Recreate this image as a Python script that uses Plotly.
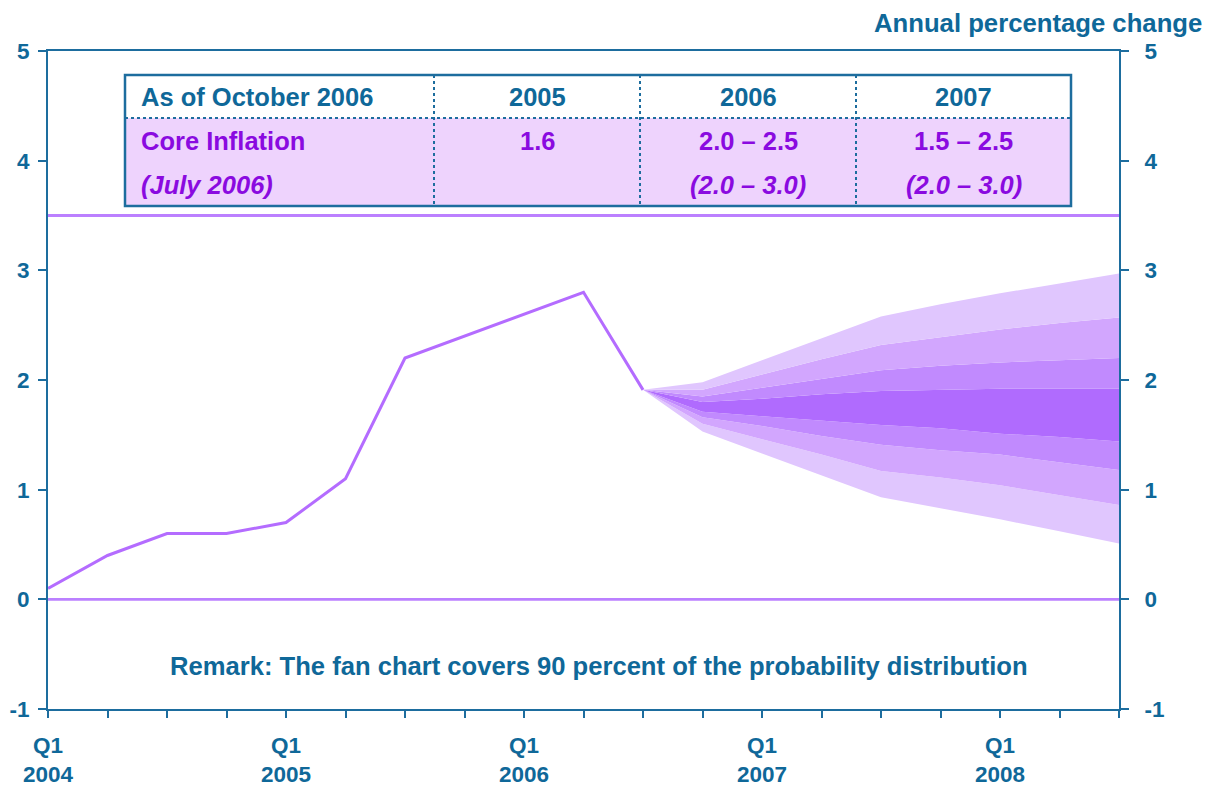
import plotly.graph_objects as go

# ---------------- data ----------------
quarters = ["Q1 2004", "Q2 2004", "Q3 2004", "Q4 2004",
            "Q1 2005", "Q2 2005", "Q3 2005", "Q4 2005",
            "Q1 2006", "Q2 2006", "Q3 2006", "Q4 2006",
            "Q1 2007", "Q2 2007", "Q3 2007", "Q4 2007",
            "Q1 2008", "Q2 2008", "Q3 2008"]
x_tick_labels = ["Q1<br>2004", "", "", "", "Q1<br>2005", "", "", "",
                 "Q1<br>2006", "", "", "", "Q1<br>2007", "", "", "",
                 "Q1<br>2008", "", ""]

actual_quarters = quarters[:11]
core_inflation = [0.1, 0.4, 0.6, 0.6, 0.7, 1.1, 2.2, 2.4, 2.6, 2.8, 1.91]

fan_quarters = quarters[10:]
fan_upper3 = [1.91, 1.98, 2.18, 2.38, 2.58, 2.69, 2.79, 2.88, 2.97]
fan_upper2 = [1.91, 1.91, 2.05, 2.19, 2.32, 2.39, 2.46, 2.52, 2.57]
fan_upper1 = [1.91, 1.85, 1.93, 2.01, 2.09, 2.13, 2.16, 2.18, 2.20]
fan_ctop = [1.91, 1.80, 1.83, 1.87, 1.90, 1.91, 1.92, 1.92, 1.92]
fan_cbot = [1.91, 1.71, 1.67, 1.63, 1.59, 1.56, 1.51, 1.48, 1.44]
fan_lower1 = [1.91, 1.66, 1.58, 1.49, 1.41, 1.36, 1.32, 1.25, 1.18]
fan_lower2 = [1.91, 1.60, 1.46, 1.32, 1.17, 1.11, 1.04, 0.95, 0.86]
fan_lower3 = [1.91, 1.53, 1.33, 1.13, 0.93, 0.83, 0.73, 0.62, 0.51]

y_tick_values = [-1, 0, 1, 2, 3, 4, 5]
y_tick_labels = ["-1", "0", "1", "2", "3", "4", "5"]
reference_lines = [0, 3.5]

table_header = ["As of October 2006", "2005", "2006", "2007"]
table_row1 = ["Core Inflation", "1.6", "2.0 – 2.5", "1.5 – 2.5"]
table_row2 = ["(July 2006)", "", "(2.0 – 3.0)", "(2.0 – 3.0)"]

title_text = "Annual percentage change"
remark_text = "Remark: The fan chart covers 90 percent of the probability distribution"

# ---------------- styles ----------------
FONT = "Liberation Sans, Arial, sans-serif"
BLUE = "#0f6899"
AXIS = "#1d6d9e"
PURPLE_TXT = "#8a0ae0"
LINE = "#b46cff"
REF_LINE = "#bb80ff"
BAND = ["#e0c6fe", "#d2a6fe", "#c18afe", "#b06bfe"]
TABLE_FILL = "#eed3fd"

OFF = 8                      # page body margin of the html page
W, H = 1216, 785
ML, MT = 48 - OFF, 51 - OFF  # plot area starts at page px (48, 51)
PW, PH = 1071, 658
MR, MB = W - ML - PW, H - MT - PH


def px(xp):  # page pixel -> paper x
    return (xp - OFF - ML) / PW


def py(yp):  # page pixel -> paper y
    return (MT + PH - (yp - OFF)) / PH


qidx = {q: i for i, q in enumerate(quarters)}

fig = go.Figure()

# fan bands: bottom to top
fan_series = [fan_lower3, fan_lower2, fan_lower1, fan_cbot,
              fan_ctop, fan_upper1, fan_upper2, fan_upper3]
band_colors = [None, BAND[0], BAND[1], BAND[2], BAND[3], BAND[2], BAND[1], BAND[0]]
fx = [qidx[q] for q in fan_quarters]
for ser, col in zip(fan_series, band_colors):
    fig.add_trace(go.Scatter(
        x=fx, y=ser, mode="lines", line=dict(width=0),
        fill=None if col is None else "tonexty",
        fillcolor=col, hoverinfo="skip", showlegend=False))

# actual core inflation line
fig.add_trace(go.Scatter(
    x=[qidx[q] for q in actual_quarters], y=core_inflation, mode="lines",
    line=dict(color=LINE, width=3), showlegend=False))

# invisible trace on right axis
fig.add_trace(go.Scatter(x=[0], y=[0], yaxis="y2", mode="markers",
                         marker=dict(opacity=0), showlegend=False,
                         hoverinfo="skip"))

shapes = []
for v in reference_lines:
    shapes.append(dict(type="line", xref="paper", yref="y", x0=0, x1=1,
                       y0=v, y1=v, line=dict(color=REF_LINE, width=2.8),
                       layer="below"))

# table geometry (page pixels)
tx0, tx1 = 125, 1071
ty0, tyh, ty1 = 75, 118, 206
cols = [tx0, 434, 640, 856, tx1]
shapes.append(dict(type="rect", xref="paper", yref="paper",
                   x0=px(tx0), x1=px(tx1), y0=py(tyh), y1=py(ty1),
                   fillcolor=TABLE_FILL, line=dict(width=0), layer="above"))
shapes.append(dict(type="rect", xref="paper", yref="paper",
                   x0=px(tx0), x1=px(tx1), y0=py(ty0), y1=py(tyh),
                   fillcolor="white", line=dict(width=0), layer="above"))
for c in cols[1:-1]:
    shapes.append(dict(type="line", xref="paper", yref="paper",
                       x0=px(c), x1=px(c), y0=py(ty0), y1=py(ty1),
                       line=dict(color=AXIS, width=2, dash="dot"), layer="above"))
shapes.append(dict(type="line", xref="paper", yref="paper",
                   x0=px(tx0), x1=px(tx1), y0=py(tyh), y1=py(tyh),
                   line=dict(color=AXIS, width=2, dash="dot"), layer="above"))
shapes.append(dict(type="rect", xref="paper", yref="paper",
                   x0=px(tx0), x1=px(tx1), y0=py(ty0), y1=py(ty1),
                   line=dict(color=AXIS, width=2.5), layer="above"))

annotations = []
hdr_y, r1_y, r2_y = 97, 141, 185
TFS = 25.5
centers = [(cols[i] + cols[i + 1]) / 2 for i in range(len(cols) - 1)]
for i, (h, r1, r2) in enumerate(zip(table_header, table_row1, table_row2)):
    if i == 0:
        xa, xx = "left", px(139)
    else:
        xa, xx = "center", px(centers[i])
    annotations.append(dict(text=h, xref="paper", yref="paper", x=xx, y=py(hdr_y),
                            xanchor=xa, yanchor="middle", showarrow=False,
                            font=dict(family=FONT, size=TFS, color=BLUE, weight="bold")))
    annotations.append(dict(text=r1, xref="paper", yref="paper", x=xx, y=py(r1_y),
                            xanchor=xa, yanchor="middle", showarrow=False,
                            font=dict(family=FONT, size=TFS, color=PURPLE_TXT, weight="bold")))
    if r2:
        annotations.append(dict(text=r2, xref="paper", yref="paper", x=xx, y=py(r2_y),
                                xanchor=xa, yanchor="middle", showarrow=False,
                                font=dict(family=FONT, size=TFS, color=PURPLE_TXT,
                                          weight="bold", style="italic")))

annotations.append(dict(text=title_text, xref="paper", yref="paper",
                        x=px(1204), y=py(23), xanchor="right", yanchor="middle",
                        showarrow=False,
                        font=dict(family=FONT, size=25.7, color=BLUE, weight="bold")))
annotations.append(dict(text=remark_text, xref="paper", yref="paper",
                        x=px(599), y=py(666), xanchor="center", yanchor="middle",
                        showarrow=False,
                        font=dict(family=FONT, size=25.6, color=BLUE, weight="bold")))

tickfont = dict(family=FONT, size=22.5, color=BLUE, weight="bold")
fig.update_layout(
    width=W, height=H,
    margin=dict(l=ML, r=MR, t=MT, b=MB, pad=0, autoexpand=False),
    paper_bgcolor="white", plot_bgcolor="white",
    showlegend=False,
    xaxis=dict(range=[0, len(quarters) - 1], tickmode="array",
               tickvals=list(range(len(quarters))), ticktext=x_tick_labels,
               ticks="outside", ticklen=7, tickwidth=1.5, tickcolor=AXIS,
               showline=True, linecolor=AXIS, linewidth=2, mirror=True,
               showgrid=False, zeroline=False, tickfont=tickfont,
               ticklabelstandoff=8, automargin=False),
    yaxis=dict(range=[-1, 5], tickmode="array", tickvals=y_tick_values,
               ticktext=y_tick_labels, ticks="outside", ticklen=8,
               tickwidth=1.5, tickcolor=AXIS, showline=True, linecolor=AXIS,
               linewidth=2, showgrid=False, zeroline=False, tickfont=tickfont,
               ticklabelstandoff=4, automargin=False),
    yaxis2=dict(range=[-1, 5], overlaying="y", side="right", tickmode="array",
                tickvals=y_tick_values, ticktext=y_tick_labels, ticks="outside",
                ticklen=8, tickwidth=1.5, tickcolor=AXIS, showline=True,
                linecolor=AXIS, linewidth=2, showgrid=False, zeroline=False,
                tickfont=tickfont, ticklabelstandoff=11, automargin=False),
    shapes=shapes, annotations=annotations,
)

fig.write_html("out.html")
